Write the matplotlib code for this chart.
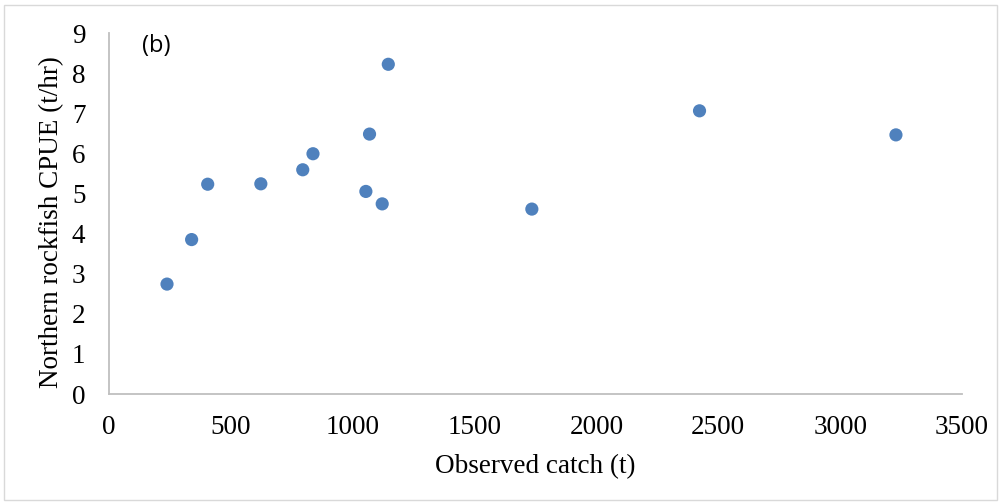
import matplotlib
matplotlib.use("Agg")
import matplotlib.pyplot as plt
from matplotlib.patches import Rectangle

catch = [238, 339, 405, 623, 795, 837, 1054, 1069, 1121, 1146, 1735, 2423, 3229]
cpue = [2.74, 3.85, 5.23, 5.24, 5.59, 5.99, 5.05, 6.48, 4.74, 8.22, 4.61, 7.06, 6.46]
xticks = [0, 500, 1000, 1500, 2000, 2500, 3000, 3500]
yticks = [0, 1, 2, 3, 4, 5, 6, 7, 8, 9]

plt.rcParams['font.family'] = ['Liberation Serif', 'DejaVu Serif']

fig = plt.figure(figsize=(10.02, 5.03), dpi=100)
fig.patches.append(Rectangle((4/1002, 3/503), 993/1002, 495/503, transform=fig.transFigure,
                             fill=False, edgecolor='#D9D9D9', linewidth=1.0))
ax = fig.add_axes([109/1002, 1 - 394/503, (962 - 109)/1002, (394 - 33)/503])

ax.scatter(catch, cpue, s=90, color='#4F81BD', edgecolors='none', zorder=3)

ax.set_xlim(0, 3500)
ax.set_ylim(0, 9)
ax.set_xticks(xticks)
ax.set_yticks(yticks)
ax.tick_params(axis='both', length=0, labelsize=19.5, colors='black')
ax.tick_params(axis='x', pad=15)
ax.tick_params(axis='y', pad=17)
for s in ['top', 'right']:
    ax.spines[s].set_visible(False)
for s in ['left', 'bottom']:
    ax.spines[s].set_color('#BFBFBF')
    ax.spines[s].set_linewidth(1.3)

ax.set_xlabel('Observed catch (t)', fontsize=19.5, labelpad=10)
ax.set_ylabel('Northern rockfish CPUE (t/hr)', fontsize=19.5)
ax.yaxis.set_label_coords(-0.053, 0.475)

ax.text(142/1002, 1 - 46/503, '(b)', transform=fig.transFigure, fontsize=17,
        family=['Open Sans', 'DejaVu Sans'], va='center', ha='left')

fig.savefig('out.png', dpi=100)
